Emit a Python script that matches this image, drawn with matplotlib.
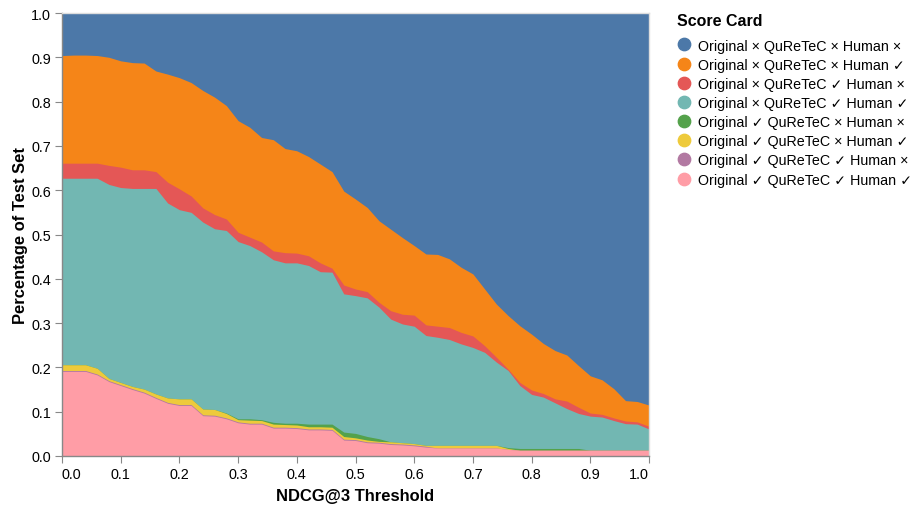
import matplotlib

matplotlib.use("Agg")
import matplotlib.pyplot as plt
import numpy as np
from matplotlib.lines import Line2D

plt.rcParams["font.family"] = ["Liberation Sans", "DejaVu Sans"]

# NDCG@3 threshold, step 0.02
thresholds = np.round(np.arange(0, 51) * 0.02, 2)

# share of the test set per score card
none_correct = [
    0.096, 0.095, 0.095, 0.096, 0.100, 0.108, 0.112, 0.113, 0.131, 0.138,
    0.146, 0.157, 0.175, 0.190, 0.209, 0.243, 0.258, 0.281, 0.286, 0.306,
    0.311, 0.324, 0.341, 0.358, 0.402, 0.420, 0.439, 0.469, 0.488, 0.507,
    0.525, 0.544, 0.545, 0.555, 0.574, 0.589, 0.623, 0.657, 0.683, 0.706,
    0.725, 0.746, 0.762, 0.772, 0.796, 0.819, 0.828, 0.848, 0.875, 0.877,
    0.885,
]
human_only = [
    0.243, 0.244, 0.244, 0.243, 0.244, 0.240, 0.242, 0.241, 0.227, 0.244,
    0.251, 0.256, 0.265, 0.265, 0.256, 0.252, 0.248, 0.236, 0.251, 0.235,
    0.231, 0.224, 0.223, 0.218, 0.212, 0.203, 0.190, 0.184, 0.184, 0.173,
    0.157, 0.160, 0.162, 0.155, 0.147, 0.140, 0.128, 0.120, 0.121, 0.128,
    0.126, 0.113, 0.109, 0.104, 0.094, 0.084, 0.078, 0.066, 0.046, 0.046,
    0.048,
]
quretec_only = [
    0.034, 0.034, 0.034, 0.034, 0.043, 0.046, 0.042, 0.042, 0.038, 0.047,
    0.047, 0.037, 0.032, 0.032, 0.026, 0.021, 0.019, 0.022, 0.020, 0.023,
    0.022, 0.022, 0.020, 0.009, 0.020, 0.015, 0.014, 0.011, 0.019, 0.022,
    0.025, 0.024, 0.025, 0.027, 0.026, 0.026, 0.015, 0.011, 0.003, 0.007,
    0.010, 0.008, 0.009, 0.017, 0.014, 0.007, 0.006, 0.006, 0.006, 0.005,
    0.006,
]
quretec_human = [
    0.421, 0.421, 0.421, 0.429, 0.438, 0.440, 0.447, 0.453, 0.464, 0.440,
    0.427, 0.421, 0.422, 0.408, 0.412, 0.400, 0.391, 0.379, 0.367, 0.362,
    0.362, 0.358, 0.344, 0.343, 0.312, 0.311, 0.313, 0.297, 0.277, 0.268,
    0.265, 0.248, 0.244, 0.239, 0.229, 0.221, 0.210, 0.188, 0.174, 0.142,
    0.122, 0.116, 0.103, 0.090, 0.079, 0.077, 0.075, 0.067, 0.060, 0.059,
    0.048,
]
original_only = [
    0.000, 0.000, 0.000, 0.000, 0.000, 0.000, 0.000, 0.000, 0.000, 0.000,
    0.000, 0.000, 0.000, 0.000, 0.001, 0.002, 0.003, 0.002, 0.004, 0.003,
    0.004, 0.006, 0.006, 0.007, 0.010, 0.010, 0.008, 0.006, 0.000, 0.000,
    0.000, 0.000, 0.000, 0.000, 0.000, 0.000, 0.000, 0.000, 0.002, 0.004,
    0.004, 0.004, 0.004, 0.004, 0.004, 0.000, 0.000, 0.000, 0.000, 0.000,
    0.000,
]
original_human = [
    0.013, 0.013, 0.013, 0.013, 0.005, 0.005, 0.005, 0.007, 0.008, 0.010,
    0.013, 0.013, 0.013, 0.013, 0.010, 0.005, 0.007, 0.006, 0.007, 0.006,
    0.006, 0.005, 0.005, 0.005, 0.006, 0.004, 0.004, 0.002, 0.004, 0.003,
    0.003, 0.002, 0.006, 0.006, 0.006, 0.006, 0.006, 0.006, 0.002, 0.000,
    0.000, 0.000, 0.000, 0.000, 0.000, 0.000, 0.000, 0.000, 0.000, 0.000,
    0.000,
]
original_quretec = [0.002] * 32 + [0.000] * 19
all_correct = [
    0.191, 0.191, 0.191, 0.183, 0.168, 0.159, 0.150, 0.142, 0.130, 0.119,
    0.114, 0.114, 0.091, 0.090, 0.084, 0.075, 0.072, 0.072, 0.063, 0.063,
    0.062, 0.059, 0.059, 0.058, 0.036, 0.035, 0.030, 0.029, 0.026, 0.025,
    0.023, 0.020, 0.018, 0.018, 0.018, 0.018, 0.018, 0.018, 0.015, 0.013,
    0.013, 0.013, 0.013, 0.013, 0.013, 0.013, 0.013, 0.013, 0.013, 0.013,
    0.013,
]

# legend order (top of the stack first)
labels = [
    "Original × QuReTeC × Human ×",
    "Original × QuReTeC × Human ✓",
    "Original × QuReTeC ✓ Human ×",
    "Original × QuReTeC ✓ Human ✓",
    "Original ✓ QuReTeC × Human ×",
    "Original ✓ QuReTeC × Human ✓",
    "Original ✓ QuReTeC ✓ Human ×",
    "Original ✓ QuReTeC ✓ Human ✓",
]
series = [
    none_correct, human_only, quretec_only, quretec_human,
    original_only, original_human, original_quretec, all_correct,
]
colors = [
    "#4c78a8", "#f58518", "#e45756", "#72b7b2",
    "#54a24b", "#eeca3b", "#b279a2", "#ff9da6",
]

fig = plt.figure(figsize=(9.15, 5.06), dpi=100)
ax = fig.add_axes([62 / 915, 1 - 457 / 506, 587 / 915, 443 / 506])

# stack from the bottom (last legend entry) upwards; fill each layer down to 0
stack = np.array(series[::-1])
tops = np.cumsum(stack, axis=0)
stack_colors = colors[::-1]
for i in reversed(range(len(stack))):
    ax.fill_between(thresholds, 0, tops[i], color=stack_colors[i], lw=0)

ax.set_xlim(0, 1)
ax.set_ylim(0, 1)
ticks = np.round(np.arange(0, 11) * 0.1, 1)
ax.set_xticks(ticks)
ax.set_yticks(ticks)
ax.set_xticklabels([f"{t:.1f}" for t in ticks])
ax.set_yticklabels([f"{t:.1f}" for t in ticks])
xlabels = ax.get_xticklabels()
xlabels[0].set_horizontalalignment("left")
xlabels[-1].set_horizontalalignment("right")

for side in ["left", "bottom"]:
    ax.spines[side].set_color("#888888")
    ax.spines[side].set_linewidth(1.0)
for side in ["top", "right"]:
    ax.spines[side].set_color("#dddddd")
    ax.spines[side].set_linewidth(1.0)
ax.tick_params(length=5, width=0.8, color="#888888", labelsize=10.4,
               labelcolor="#000000", pad=3)

ax.set_xlabel("NDCG@3 Threshold", fontsize=11.9, fontweight="bold", labelpad=5)
ax.set_ylabel("Percentage of Test Set", fontsize=11.9, fontweight="bold",
              labelpad=2)

fig.text(677 / 915, 1 - 21 / 506, "Score Card", fontsize=11.5,
         fontweight="bold", va="center", ha="left")
handles = [
    Line2D([], [], marker="o", linestyle="", markersize=8.9,
           markerfacecolor=c, markeredgecolor=c)
    for c in colors
]
fig.legend(
    handles, labels,
    loc="upper left", bbox_to_anchor=(676.5 / 915, 1 - 39.5 / 506),
    frameon=False, fontsize=10.3, borderpad=0, borderaxespad=0,
    handlelength=1.07, handletextpad=0.45, labelspacing=0.36,
)

fig.savefig("out.png", dpi=100)
